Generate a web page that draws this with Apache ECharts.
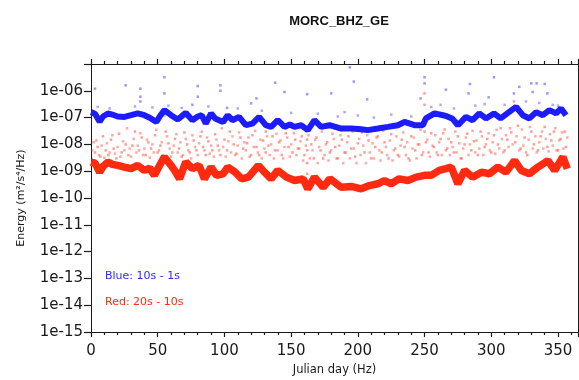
<!DOCTYPE html>
<html>
<head>
<meta charset="utf-8">
<script src="https://cdn.jsdelivr.net/npm/echarts@6/dist/echarts.min.js"></script>
<style>html,body{margin:0;padding:0;background:#fff}#c{width:579px;height:380px}</style>
</head>
<body>
<div id="c"></div>
<script>
const titleText = 'MORC_BHZ_GE';
const xName = 'Julian day (Hz)';
const yName = 'Energy (m\u00B2/s\u2074/Hz)';
const legendBlue = 'Blue: 10s - 1s';
const legendRed = 'Red: 20s - 10s';

// Blue band (10s - 1s)
const blueDays = [0,3,6.5,9,12.7,16,20,25,30,35,40,44,49,52,55,60,65,71,76,80,83,86,90,93,99,102.5,106,111,116,121,126,131,135,140,145,149,152.6,157.5,162.5,167.5,172.5,178.8,180,187.5,195,202.5,207.5,215,222.5,230,235,242.5,248.7,251,257.5,263.7,267,271,275,281,286,291,296,302,307,312,318.6,323.6,328.6,333.6,338.6,343.6,348.6,352.3,356];
const blueVals = [1.6e-7,1.4e-7,7e-8,1.1e-7,1.43e-7,1.3e-7,1.1e-7,1.06e-7,1.23e-7,1.43e-7,1.23e-7,9.9e-8,6.9e-8,1.2e-7,1.9e-7,1.23e-7,8.5e-8,1.5e-7,8e-8,1.1e-7,1.23e-7,6e-8,1.43e-7,9.3e-8,6.9e-8,1.23e-7,8e-8,1.06e-7,5.2e-8,6e-8,1.06e-7,5.2e-8,4.5e-8,8e-8,4.5e-8,5.5e-8,4.5e-8,5.2e-8,3.4e-8,8e-8,4.5e-8,5.2e-8,5.2e-8,3.9e-8,3.9e-8,3.7e-8,3.4e-8,3.9e-8,4.5e-8,5.2e-8,6.9e-8,5.2e-8,5.2e-8,9.3e-8,1.43e-7,1.23e-7,1.1e-7,9e-8,5.2e-8,1.06e-7,8e-8,1.43e-7,9.3e-8,1.43e-7,9.3e-8,1.43e-7,2.5e-7,1.23e-7,9.3e-8,1.6e-7,1.23e-7,1.9e-7,1.43e-7,2.2e-7,1.23e-7];

// Red band (20s - 10s)
const redDays = [0,3,6.5,9,12.7,16,20,25,30,35,40,44,47.5,51,55,60,63,66.4,71,76,81,85,90,94,99,102.5,108,113,118,125.5,130,135,140,146.5,152.6,159,162.5,167.5,174,179,180,187.5,195,202.5,208.7,215,220,225,231,237.5,243.7,250,255,261,266,270,275,280,286,292.6,298.6,305,311,317.5,322.5,328.6,335,342.5,347.5,353.7,357];
const redVals = [2.2e-9,2e-9,9.2e-10,1.5e-9,2.2e-9,1.8e-9,1.65e-9,1.43e-9,1.24e-9,1.65e-9,1.07e-9,1.3e-9,7e-10,1.5e-9,3.4e-9,1.65e-9,1e-9,5.2e-10,2.2e-9,1.24e-9,1.65e-9,5.2e-10,1.43e-9,7e-10,8e-10,1.43e-9,9.2e-10,5.2e-10,6e-10,1.65e-9,9.2e-10,5.2e-10,1.07e-9,6e-10,4.5e-10,5.2e-10,2.2e-10,6e-10,2.5e-10,5.2e-10,6e-10,2.5e-10,2.7e-10,2.2e-10,2.9e-10,3.4e-10,4.5e-10,3.4e-10,5.2e-10,4.5e-10,6e-10,7e-10,7e-10,1.07e-9,1.24e-9,1.43e-9,3.4e-10,1.07e-9,6e-10,9.2e-10,8e-10,1.43e-9,9.2e-10,2.5e-9,1.07e-9,8e-10,1.43e-9,2.5e-9,1.07e-9,3.4e-9,1.24e-9];

// Sparse outliers
const blueOutDays = [3,26,55,55,37,37,37,80,80,76,97,97,138,145,124,162,120,102,194,197,180,207,250,250,247,266,302,284,321,330,334,340,317,298,331,342,283];
const blueOutVals = [1.2e-6,1.6e-6,3.2e-6,8e-7,1.2e-6,6e-7,4e-7,1.5e-6,6e-7,3e-7,1.6e-6,1e-6,2e-6,9e-7,5.2e-7,7.5e-7,3.4e-7,2.3e-7,7.5e-6,2.2e-6,8e-7,4.8e-7,3.2e-6,1.9e-6,5.2e-7,1.1e-6,3.2e-6,1.8e-6,1.4e-6,1.9e-6,1.9e-6,1.8e-6,8e-7,5.7e-7,9e-7,8e-7,8e-7];
const blueNearBand = [[5,2.5e-7],[14,2.2e-7],[33,2.6e-7],[46,2.4e-7],[58,2.8e-7],[68,2.3e-7],[88,2.6e-7],[110,2.2e-7],[128,1.8e-7],[150,1.5e-7],[170,1.4e-7],[185,1.1e-7],[190,1.6e-7],[200,1.2e-7],[212,1e-7],[225,1.3e-7],[240,1.1e-7],[255,2.5e-7],[262,3e-7],[272,2.2e-7],[288,2.8e-7],[295,3.2e-7],[310,3e-7],[326,4e-7],[336,3.5e-7],[346,3e-7],[350,2.8e-7]];

const redOutDays = [2,3,5,7,9,11,13,15,17,19,21,23,26,28,31,33,36,38,41,43,45,48,50,52,55,56,58,61,63,66,68,70,72,74,77,79,82,84,86,88,91,93,95,97,100,102,104,107,109,112,114,117,119,121,124,126,129,131,131,133,136,138,141,143,146,148,151,153,156,158,160,162,162,162,162,162,165,167,169,172,174,177,179,181,183,185,188,190,193,195,198,200,203,205,208,210,213,215,218,220,223,225,228,230,233,235,238,240,243,245,248,250,250,250,250,251,253,255,257,260,262,265,267,270,272,275,277,280,282,285,287,290,292,295,297,300,302,305,307,310,312,315,317,318,320,322,325,327,330,332,335,337,340,342,345,347,350,352,355,356];
const redOutVals = [1.2e-8,5e-9,8e-9,3.5e-9,2e-8,6e-9,4e-9,1.5e-8,7e-9,3e-9,2.5e-8,5e-9,1e-8,4e-9,9e-9,3e-8,6e-9,1.8e-8,4e-9,1.2e-8,7e-9,2.2e-8,5e-9,9e-9,1.2e-7,3e-8,1.1e-8,5e-9,1.6e-8,7e-9,3.5e-9,2.8e-8,1e-8,5e-9,1.4e-8,6e-9,2e-8,8e-9,4e-9,1.3e-8,6e-9,2.4e-8,9e-9,4e-9,1.5e-8,6e-9,3e-8,1e-8,4.5e-9,1.8e-8,7e-9,1.1e-8,3.5e-9,2.2e-8,8e-9,4e-9,1.4e-8,3e-8,5e-9,9e-9,2e-8,6e-9,1.2e-8,4e-9,2.6e-8,8e-9,5e-9,1.5e-8,7e-9,2e-8,4e-9,4e-8,1.5e-8,6e-9,2e-9,8e-10,1e-8,3e-9,1.8e-8,6e-9,3e-9,1.2e-8,5e-9,2.5e-8,8e-9,3e-9,1.5e-8,5e-9,2e-8,7e-9,3.5e-9,1.1e-8,2.8e-8,5e-9,1.4e-8,3e-9,8e-9,2e-8,5e-9,1.2e-8,3e-9,2.4e-8,7e-9,4e-9,1.5e-8,8e-9,3e-9,2e-8,6e-9,1e-8,4e-9,8e-7,3e-7,9e-8,3e-8,1.2e-8,5e-9,2.6e-8,8e-9,4e-9,1.6e-8,3.6e-8,7e-9,1.2e-8,5e-9,2e-8,3e-9,1e-8,2.5e-8,6e-9,1.3e-8,4e-9,3e-8,8e-9,1.6e-8,5e-9,2.2e-8,1e-8,4e-8,6e-9,1.5e-8,2.8e-8,4e-7,1.2e-8,5e-8,7e-9,1.8e-8,4e-9,3e-8,1e-8,6e-9,2e-8,4.5e-8,8e-9,1.4e-8,3e-8,6e-9,1.6e-8,3e-8,8e-9];
const redCloud = [[1,6e-9],[4,1.4e-8],[6,4e-9],[8,9e-9],[10,3.2e-9],[12,1.1e-8],[14,5e-9],[16,2.2e-8],[18,4.5e-9],[20,8e-9],[22,3.5e-9],[24,1.3e-8],[25,6e-9],[27,4e-8],[29,7e-9],[30,3.5e-9],[32,1.6e-8],[34,5e-9],[35,9e-9],[37,2.6e-8],[39,4e-9],[40,7e-9],[42,1.5e-8],[44,3.2e-9],[46,1e-8],[47,5e-9],[49,3.5e-8],[51,6e-9],[53,1.2e-8],[54,4e-9],[57,2e-8],[59,7e-9],[60,3.5e-9],[62,9e-9],[64,2.4e-8],[65,5e-9],[67,1.2e-8],[69,4e-9],[71,1.6e-8],[73,6e-9],[75,3e-9],[76,2.2e-8],[78,8e-9],[80,4e-9],[81,1.1e-8],[83,3e-8],[85,6e-9],[87,1.8e-8],[89,4.5e-9],[90,9e-9],[92,3.5e-9],[94,1.5e-8],[96,6e-9],[98,4e-8],[99,8e-9],[101,3.5e-9],[103,1.3e-8],[105,5e-9],[106,2e-8],[108,4e-9],[110,9e-9],[111,2.8e-8],[113,3e-9],[115,1.2e-8],[116,6e-9],[118,1.8e-8],[120,4e-9],[122,8e-9],[123,3.2e-8],[125,5e-9],[127,1.5e-8],[128,3e-9],[130,7e-9],[132,2e-8],[134,4e-9],[135,1e-8],[137,3e-9],[139,2.5e-8],[140,6e-9],[142,1.4e-8],[144,3e-9],[145,8e-9],[147,1.8e-8],[149,3.5e-9],[150,1e-8],[152,2.6e-8],[154,4e-9],[155,7e-9],[157,1.3e-8],[159,2.5e-9],[161,9e-9],[163,2.2e-8],[164,3e-9],[166,6e-9],[168,1.5e-8],[170,2e-9],[171,8e-9],[173,3e-8],[175,4e-9],[176,1e-8],[178,2.5e-9],[180,6e-9],[182,1.6e-8],[184,3e-9],[186,9e-9],[187,2.2e-8],[189,2e-9],[191,5e-9],[192,1.2e-8],[194,3e-9],[196,3e-8],[197,7e-9],[199,2e-9],[201,1.6e-8],[202,4e-9],[204,9e-9],[206,2e-9],[207,2.2e-8],[209,5e-9],[211,1.1e-8],[212,3e-9],[214,1.8e-8],[216,6e-9],[217,2.5e-9],[219,3.2e-8],[221,8e-9],[222,4e-9],[224,1.4e-8],[226,2.5e-9],[227,6e-9],[229,2e-8],[231,3.5e-9],[232,9e-9],[234,2.8e-8],[236,4e-9],[237,1.2e-8],[239,2.5e-9],[241,7e-9],[242,1.8e-8],[244,3e-9],[246,1e-8],[247,3.5e-8],[249,5e-9],[252,1.5e-8],[254,3.5e-9],[256,9e-9],[258,2.2e-8],[259,5e-9],[261,1.2e-8],[263,4e-9],[264,2.6e-8],[266,6e-9],[268,1.6e-8],[269,4e-9],[271,8e-9],[273,3e-8],[274,5e-9],[276,1.1e-8],[278,3e-9],[279,7e-9],[281,1.8e-8],[283,4e-9],[284,1e-8],[286,3.2e-8],[288,5e-9],[289,1.4e-8],[291,7e-9],[293,2e-8],[294,4e-9],[296,1e-8],[298,2.6e-8],[299,6e-9],[301,1.2e-8],[303,4.5e-9],[304,3.5e-8],[306,7e-9],[308,1.6e-8],[309,5e-9],[311,2.2e-8],[313,8e-9],[314,4e-8],[316,1e-8],[319,2e-8],[321,6e-9],[323,3.6e-8],[324,9e-9],[326,5e-9],[328,1.5e-8],[329,4.5e-8],[331,7e-9],[333,2e-8],[334,5e-9],[336,1.2e-8],[338,3e-8],[339,7e-9],[341,1.6e-8],[343,5.5e-9],[344,2.4e-8],[346,9e-9],[348,4e-8],[349,6e-9],[351,1.4e-8],[353,2.8e-8],[354,7e-9],[357,1.8e-8]];

const zip = (a, b) => a.map((v, i) => [v, b[i]]);
const FONT = 'DejaVu Sans';
const INK = '#1a1a1a';

const chart = echarts.init(document.getElementById('c'), null, {renderer: 'canvas'});
function xAx(pos, showLabel) {
  const ax = {
    type: 'value', min: 0, max: 365, interval: 50, position: pos,
    splitLine: {show: false},
    axisLine: {show: true, onZero: false, lineStyle: {color: INK, width: 1}},
    axisTick: {show: true, inside: false, length: 5, lineStyle: {color: INK, width: 1.2}},
    minorTick: {show: true, splitNumber: 5, length: 3, lineStyle: {color: INK, width: 1.2}},
    axisLabel: {show: showLabel, fontFamily: FONT, fontSize: 15, color: INK, margin: 12, showMaxLabel: false}
  };
  if (showLabel) {
    ax.name = xName; ax.nameLocation = 'middle'; ax.nameGap = 26;
    ax.nameTextStyle = {fontFamily: FONT, fontSize: 11.5, color: INK};
  }
  return ax;
}
chart.setOption({
  animation: false,
  backgroundColor: '#fff',
  title: {
    text: titleText, left: 334, top: 10, textAlign: 'center',
    textStyle: {fontFamily: 'Liberation Sans', fontWeight: 'bold', fontSize: 13, color: '#111'}
  },
  grid: {left: 91, right: 1, top: 64, bottom: 48, outerBoundsMode: 'none', containLabel: false},
  xAxis: [xAx('bottom', true), xAx('top', false)],
  yAxis: [
    {
      type: 'log', logBase: 10, min: 1e-15, max: 1e-5, splitNumber: 10,
      position: 'left',
      name: yName, nameLocation: 'middle', nameGap: 64,
      nameTextStyle: {fontFamily: FONT, fontSize: 11, color: INK},
      splitLine: {show: false},
      axisLine: {show: true, onZero: false, lineStyle: {color: INK, width: 1}},
      axisTick: {show: true, inside: false, length: 7, lineStyle: {color: INK, width: 1.2}},
      axisLabel: {
        fontFamily: FONT, fontSize: 15, color: INK, margin: 8,
        formatter: function (v) {
          const e = Math.round(Math.log10(v));
          if (e >= -5) return '';
          const a = Math.abs(e);
          return '1e-' + (a < 10 ? '0' + a : '' + a);
        }
      }
    },
    {
      type: 'log', logBase: 10, min: 1e-15, max: 1e-5, splitNumber: 10, position: 'right',
      splitLine: {show: false},
      axisLine: {show: true, onZero: false, lineStyle: {color: INK, width: 1}},
      axisTick: {show: false}, axisLabel: {show: false}
    }
  ],
  series: [
    {
      type: 'scatter', name: 'redCloud', data: redCloud,
      symbol: 'rect', symbolSize: 2.5, itemStyle: {color: 'rgba(255,60,40,0.55)'}, z: 1
    },
    {
      type: 'scatter', name: 'redOut', data: zip(redOutDays, redOutVals),
      symbol: 'rect', symbolSize: 2.5, itemStyle: {color: 'rgba(255,50,30,0.6)'}, z: 1
    },
    {
      type: 'line', name: 'red', data: zip(redDays, redVals), showSymbol: false, symbol: 'none',
      lineStyle: {color: '#ff2a10', width: 7.5}, z: 2
    },
    {
      type: 'scatter', name: 'blueNear', data: blueNearBand,
      symbol: 'rect', symbolSize: 2.5, itemStyle: {color: 'rgba(40,40,255,0.5)'}, z: 3
    },
    {
      type: 'scatter', name: 'blueOut', data: zip(blueOutDays, blueOutVals),
      symbol: 'rect', symbolSize: 2.5, itemStyle: {color: 'rgba(40,40,255,0.6)'}, z: 3
    },
    {
      type: 'line', name: 'blue', data: zip(blueDays, blueVals), showSymbol: false, symbol: 'none',
      lineStyle: {color: '#1c1cff', width: 6}, z: 4
    }
  ],
  graphic: [
    {type: 'text', left: 105, top: 271, style: {text: legendBlue, fill: '#2a2aff', font: '11px "DejaVu Sans"'}},
    {type: 'text', left: 105, top: 297, style: {text: legendRed, fill: '#ff2a14', font: '11px "DejaVu Sans"'}}
  ]
});
</script>
</body>
</html>
